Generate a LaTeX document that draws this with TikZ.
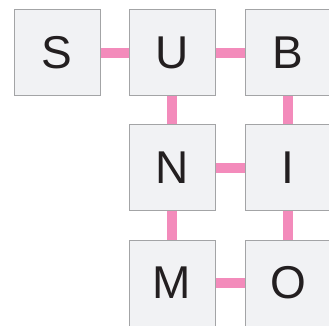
\documentclass[tikz,border=0pt]{standalone}
\usepackage{fontspec}
\setmainfont{Liberation Sans}
\definecolor{tilefill}{HTML}{F1F2F4}
\definecolor{tileedge}{HTML}{A3A4A6}
\definecolor{linkpink}{HTML}{F38BBB}
\definecolor{letterink}{HTML}{231F20}
\tikzset{
  tile/.style={draw=tileedge, fill=tilefill, line width=1pt, minimum size=86pt,
    inner sep=0pt, text=letterink, font=\fontsize{46}{50}\selectfont},
  link/.style={draw=linkpink, line width=10pt}
}
\begin{document}
\begin{tikzpicture}[x=1pt, y=-1pt]
  \useasboundingbox (0,0) rectangle (329,325);
  \foreach \x/\y/\lab in {
    57/52.5/S,
    172/52.5/U,
    288/52.5/B,
    172/167.5/N,
    288/167.5/I,
    172/283/M,
    288/283/O}{
    \node[tile] (\lab) at (\x,\y) {\lab};
  }
  \foreach \a/\b in {S/U, U/B, U/N, B/I, N/I, N/M, I/O, M/O}
    {\draw[link] (\a) -- (\b);}
\end{tikzpicture}
\end{document}
